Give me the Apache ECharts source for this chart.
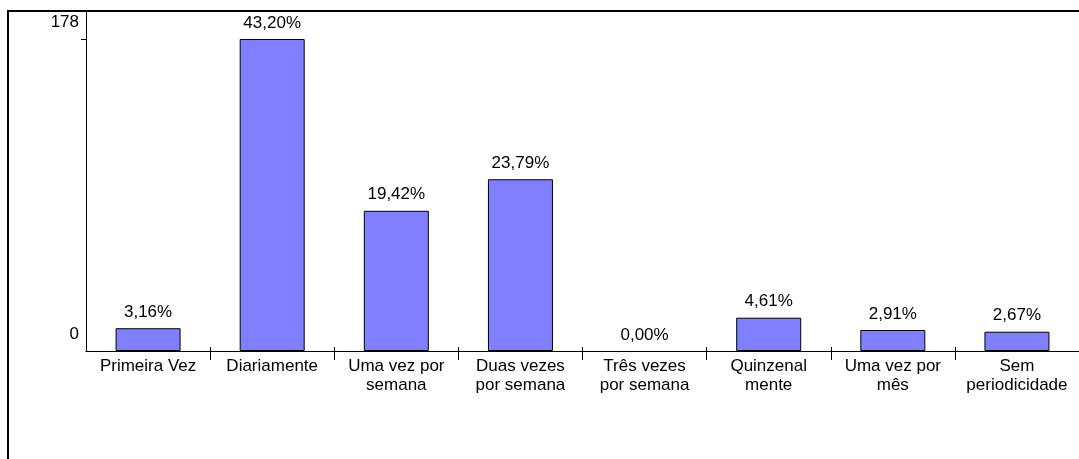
<!DOCTYPE html>
<html>
<head>
<meta charset="utf-8">
<script src="https://cdn.jsdelivr.net/npm/echarts@6/dist/echarts.min.js"></script>
<style>
html,body{margin:0;padding:0;background:#fff;}
#chart{width:1079px;height:459px;}
</style>
</head>
<body>
<div id="chart"></div>
<script>
var categories = ['Primeira Vez', 'Diariamente', 'Uma vez por\nsemana', 'Duas vezes\npor semana', 'Três vezes\npor semana', 'Quinzenal\nmente', 'Uma vez por\nmês', 'Sem\nperiodicidade'];
var counts = [13, 178, 80, 98, 0, 19, 12, 11];
var percentLabels = ['3,16%', '43,20%', '19,42%', '23,79%', '0,00%', '4,61%', '2,91%', '2,67%'];
var yLabelValues = [0, 178];
var yTickMarkValues = [178];

var FONT = '"Liberation Sans", Arial, sans-serif';
var chart = echarts.init(document.getElementById('chart'), null, {renderer: 'canvas'});
chart.setOption({
  animation: false,
  backgroundColor: '#ffffff',
  grid: {left: 86, top: 11, width: 1001, height: 340, containLabel: false},
  graphic: [{
    type: 'rect',
    shape: {x: 8, y: 11, width: 1200, height: 600},
    style: {fill: 'none', stroke: '#000', lineWidth: 2},
    silent: true, z: 100
  }],
  xAxis: [{
    type: 'category',
    data: categories,
    position: 'bottom',
    axisLine: {show: true, lineStyle: {color: '#000', width: 1}},
    axisTick: {show: true, length: 9, interval: function (i) { return i > 0; }, lineStyle: {color: '#000'}},
    axisLabel: {color: '#000', fontFamily: FONT, fontSize: 17, lineHeight: 19, margin: 6, interval: 0},
    splitLine: {show: false}
  }, {
    type: 'category',
    data: categories,
    position: 'bottom',
    axisLine: {show: false},
    axisTick: {show: true, inside: true, length: 4, interval: function (i) { return i > 0; }, lineStyle: {color: '#000'}},
    axisLabel: {show: false},
    splitLine: {show: false}
  }],
  yAxis: {
    type: 'value',
    min: 0,
    max: 194,
    axisLine: {show: true, lineStyle: {color: '#000', width: 1}},
    axisTick: {show: true, length: 5, customValues: yTickMarkValues, lineStyle: {color: '#000'}},
    axisLabel: {
      customValues: yLabelValues,
      color: '#000', fontFamily: FONT, fontSize: 17, lineHeight: 18,
      margin: 7, verticalAlign: 'bottom', padding: [0, 0, 8, 0]
    },
    splitLine: {show: false}
  },
  series: [{
    type: 'bar',
    data: counts.map(function (v) { return v === 0 ? {value: v, itemStyle: {borderWidth: 0}} : v; }),
    barWidth: 65,
    itemStyle: {color: '#8080FF', borderColor: '#000', borderWidth: 1},
    label: {
      show: true,
      position: 'top',
      distance: 7,
      color: '#000',
      fontFamily: FONT,
      fontSize: 17,
      lineHeight: 18,
      formatter: function (p) { return percentLabels[p.dataIndex]; }
    }
  }]
});
</script>
</body>
</html>
